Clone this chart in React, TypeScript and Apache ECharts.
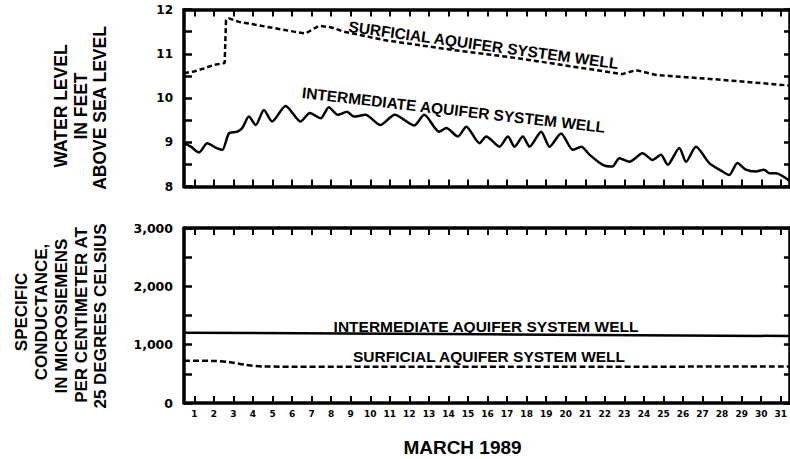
import React, { useEffect, useRef } from "react";
import * as echarts from "echarts";

// X axis: days of March 1989
const dayTicks = [1, 2, 3, 4, 5, 6, 7, 8, 9, 10, 11, 12, 13, 14, 15, 16, 17, 18, 19, 20, 21, 22, 23, 24, 25, 26, 27, 28, 29, 30, 31];

// Water level, surficial aquifer system well (feet above sea level)
const surficialLevelDays = [0.47, 0.98, 1.5, 2.01, 2.55, 2.62, 2.77, 3.28, 4.2, 5.07, 6.09, 6.69, 7.37, 7.97, 8.65, 10.69, 14.15, 17.53, 20.95, 22.89, 23.59, 24.62, 28.0, 31.47];
const surficialLevels = [10.56, 10.6, 10.67, 10.75, 10.79, 11.76, 11.8, 11.72, 11.65, 11.58, 11.5, 11.46, 11.63, 11.6, 11.5, 11.31, 11.09, 10.9, 10.67, 10.54, 10.63, 10.52, 10.41, 10.28];

// Water level, intermediate aquifer system well (feet above sea level)
const intermediateLevelDays = [0.47, 0.82, 1.24, 1.66, 2.09, 2.43, 2.77, 3.2, 3.45, 3.79, 4.14, 4.56, 4.98, 5.67, 6.43, 6.91, 7.46, 7.88, 8.34, 8.81, 9.16, 9.75, 10.52, 11.25, 12.25, 12.76, 13.52, 13.89, 14.48, 14.91, 15.59, 15.93, 16.61, 17.04, 17.38, 17.8, 18.15, 18.74, 19.17, 19.76, 20.36, 20.79, 21.21, 21.89, 22.38, 22.74, 23.25, 23.93, 24.44, 24.87, 25.21, 25.81, 26.15, 26.66, 27.34, 28.02, 28.36, 28.78, 29.21, 29.72, 30.15, 30.4, 30.75, 31.47];
const intermediateLevels = [8.98, 8.9, 8.77, 8.98, 8.88, 8.83, 9.2, 9.24, 9.32, 9.58, 9.39, 9.73, 9.47, 9.82, 9.47, 9.66, 9.54, 9.79, 9.62, 9.69, 9.58, 9.62, 9.39, 9.62, 9.38, 9.62, 9.24, 9.32, 9.13, 9.35, 8.98, 9.13, 8.9, 9.13, 8.9, 9.13, 8.9, 9.24, 8.9, 9.2, 8.83, 8.9, 8.72, 8.49, 8.45, 8.64, 8.56, 8.75, 8.6, 8.72, 8.49, 8.87, 8.56, 8.9, 8.53, 8.34, 8.26, 8.53, 8.38, 8.34, 8.38, 8.3, 8.3, 8.12];

// Specific conductance (microsiemens per centimeter at 25 degrees Celsius)
const surficialCondDays = [0.47, 2.0, 2.8, 3.6, 4.6, 10.0, 20.0, 31.47];
const surficialCond = [725, 720, 700, 655, 625, 620, 622, 625];
const intermediateCondDays = [0.47, 16.0, 31.47];
const intermediateCond = [1205, 1178, 1148];

const pairs = (xs: number[], ys: number[]) => xs.map((x, i) => [x, ys[i]]);

const BLACK = "#000";
const TITLE_FONT = "'Liberation Sans', Arial, sans-serif";
const TICK_FONT = "'DejaVu Sans', sans-serif";

const xBase = (position: string, labels: boolean) => ({
  type: "value",
  min: 0.47,
  max: 31.47,
  position,
  axisLine: { show: true, onZero: false, lineStyle: { color: BLACK, width: 3.5 } },
  axisTick: { show: true, inside: true, length: 7, customValues: dayTicks, lineStyle: { color: BLACK, width: 2 } },
  axisLabel: labels
    ? { show: true, customValues: dayTicks, fontSize: 9, fontFamily: TICK_FONT, fontWeight: "bold", color: BLACK, margin: 6 }
    : { show: false },
  splitLine: { show: false },
});

const yBase = (position: string, min: number, max: number, interval: number, fmt: any, fontSize: number) => ({
  type: "value",
  min,
  max,
  interval,
  position,
  axisLine: { show: true, onZero: false, lineStyle: { color: BLACK, width: 3.5 } },
  axisTick: { show: true, inside: true, length: position === "left" ? 8 : 6, lineStyle: { color: BLACK, width: 2.5 } },
  axisLabel: fmt
    ? { show: true, formatter: fmt, fontSize, fontFamily: TICK_FONT, fontWeight: "bold", color: BLACK, margin: 11 }
    : { show: false },
  splitLine: { show: false },
});

const levelFmt = (x: number) => (Number.isInteger(x) ? String(x) : "");
const condFmt = (x: number) => (x % 1000 === 0 ? x.toLocaleString("en-US") : "");

const vText = (text: string, x: number, y: number, size: number) => ({
  type: "text",
  x,
  y,
  rotation: Math.PI / 2,
  style: { text, fill: BLACK, font: `bold ${size}px ${TITLE_FONT}`, align: "center", verticalAlign: "middle" },
});

const lineText = (text: string, x: number, y: number, rot: number) => ({
  type: "text",
  x,
  y,
  rotation: rot,
  style: { text, fill: BLACK, font: `bold 15.5px ${TITLE_FONT}`, align: "center", verticalAlign: "middle" },
});

// Upper panel: water level (chart area 790 x 210, page offset 0)
function waterLevelOption() {
  return {
    animation: false,
    backgroundColor: "#fff",
    grid: { left: 184, top: 9.5, width: 607, height: 177 },
    xAxis: [xBase("bottom", false), xBase("top", false)],
    yAxis: [yBase("left", 8, 12, 0.5, levelFmt, 12), yBase("right", 8, 12, 0.5, null, 12)],
    series: [
      {
        name: "Surficial water level",
        type: "line",
        xAxisIndex: 0,
        yAxisIndex: 0,
        data: pairs(surficialLevelDays, surficialLevels),
        showSymbol: false,
        lineStyle: { color: BLACK, width: 2.5, type: [5, 3] },
      },
      {
        name: "Intermediate water level",
        type: "line",
        xAxisIndex: 0,
        yAxisIndex: 0,
        data: pairs(intermediateLevelDays, intermediateLevels),
        showSymbol: false,
        smooth: 0.25,
        lineStyle: { color: BLACK, width: 2.5 },
      },
    ],
    graphic: [
      vText("WATER LEVEL", 61, 106, 17.5),
      vText("IN FEET", 80.5, 106, 17.5),
      vText("ABOVE SEA LEVEL", 99.5, 108, 17.5),
      lineText("SURFICIAL AQUIFER SYSTEM WELL", 483.5, 45, -0.137),
      lineText("INTERMEDIATE AQUIFER SYSTEM WELL", 453.5, 110, -0.114),
    ],
  };
}

// Lower panel: specific conductance (chart area 790 x 249, page offset 210)
function conductanceOption() {
  return {
    animation: false,
    backgroundColor: "#fff",
    grid: { left: 184, top: 18, width: 607, height: 175 },
    xAxis: [xBase("bottom", true), xBase("top", false)],
    yAxis: [yBase("left", 0, 3000, 500, condFmt, 12.5), yBase("right", 0, 3000, 500, null, 12.5)],
    series: [
      {
        name: "Surficial conductance",
        type: "line",
        xAxisIndex: 0,
        yAxisIndex: 0,
        data: pairs(surficialCondDays, surficialCond),
        showSymbol: false,
        smooth: 0.3,
        lineStyle: { color: BLACK, width: 2.5, type: [6, 3] },
      },
      {
        name: "Intermediate conductance",
        type: "line",
        xAxisIndex: 0,
        yAxisIndex: 0,
        data: pairs(intermediateCondDays, intermediateCond),
        showSymbol: false,
        lineStyle: { color: BLACK, width: 2.5 },
      },
    ],
    graphic: [
      vText("SPECIFIC", 21, 102, 17),
      vText("CONDUCTANCE,", 41, 102, 17),
      vText("IN MICROSIEMENS", 61.5, 106, 17),
      vText("PER CENTIMETER AT", 81, 105, 17),
      vText("25 DEGREES CELSIUS", 100.5, 106, 17),
      {
        type: "text",
        x: 462.5,
        y: 237,
        style: { text: "MARCH 1989", fill: BLACK, font: `bold 19px ${TITLE_FONT}`, align: "center", verticalAlign: "middle" },
      },
      lineText("INTERMEDIATE AQUIFER SYSTEM WELL", 486, 116, 0),
      lineText("SURFICIAL AQUIFER SYSTEM WELL", 489, 146.5, 0),
    ],
  };
}

export default function App() {
  const topRef = useRef<HTMLDivElement>(null);
  const bottomRef = useRef<HTMLDivElement>(null);

  useEffect(() => {
    if (!topRef.current || !bottomRef.current) return;
    const top = echarts.init(topRef.current, undefined, { renderer: "svg" });
    const bottom = echarts.init(bottomRef.current, undefined, { renderer: "svg" });
    top.setOption(waterLevelOption() as any);
    bottom.setOption(conductanceOption() as any);
    return () => {
      top.dispose();
      bottom.dispose();
    };
  }, []);

  return (
    <div style={{ position: "fixed", left: 0, top: 0, width: 790, height: 459, background: "#fff", overflow: "hidden" }}>
      <div style={{ position: "absolute", left: 0, top: 0, width: 790, height: 210, overflow: "hidden" }}>
        <div ref={topRef} style={{ width: 790, height: 210 }} />
      </div>
      <div style={{ position: "absolute", left: 0, top: 210, width: 790, height: 249, overflow: "hidden" }}>
        <div ref={bottomRef} style={{ width: 790, height: 249 }} />
      </div>
    </div>
  );
}
